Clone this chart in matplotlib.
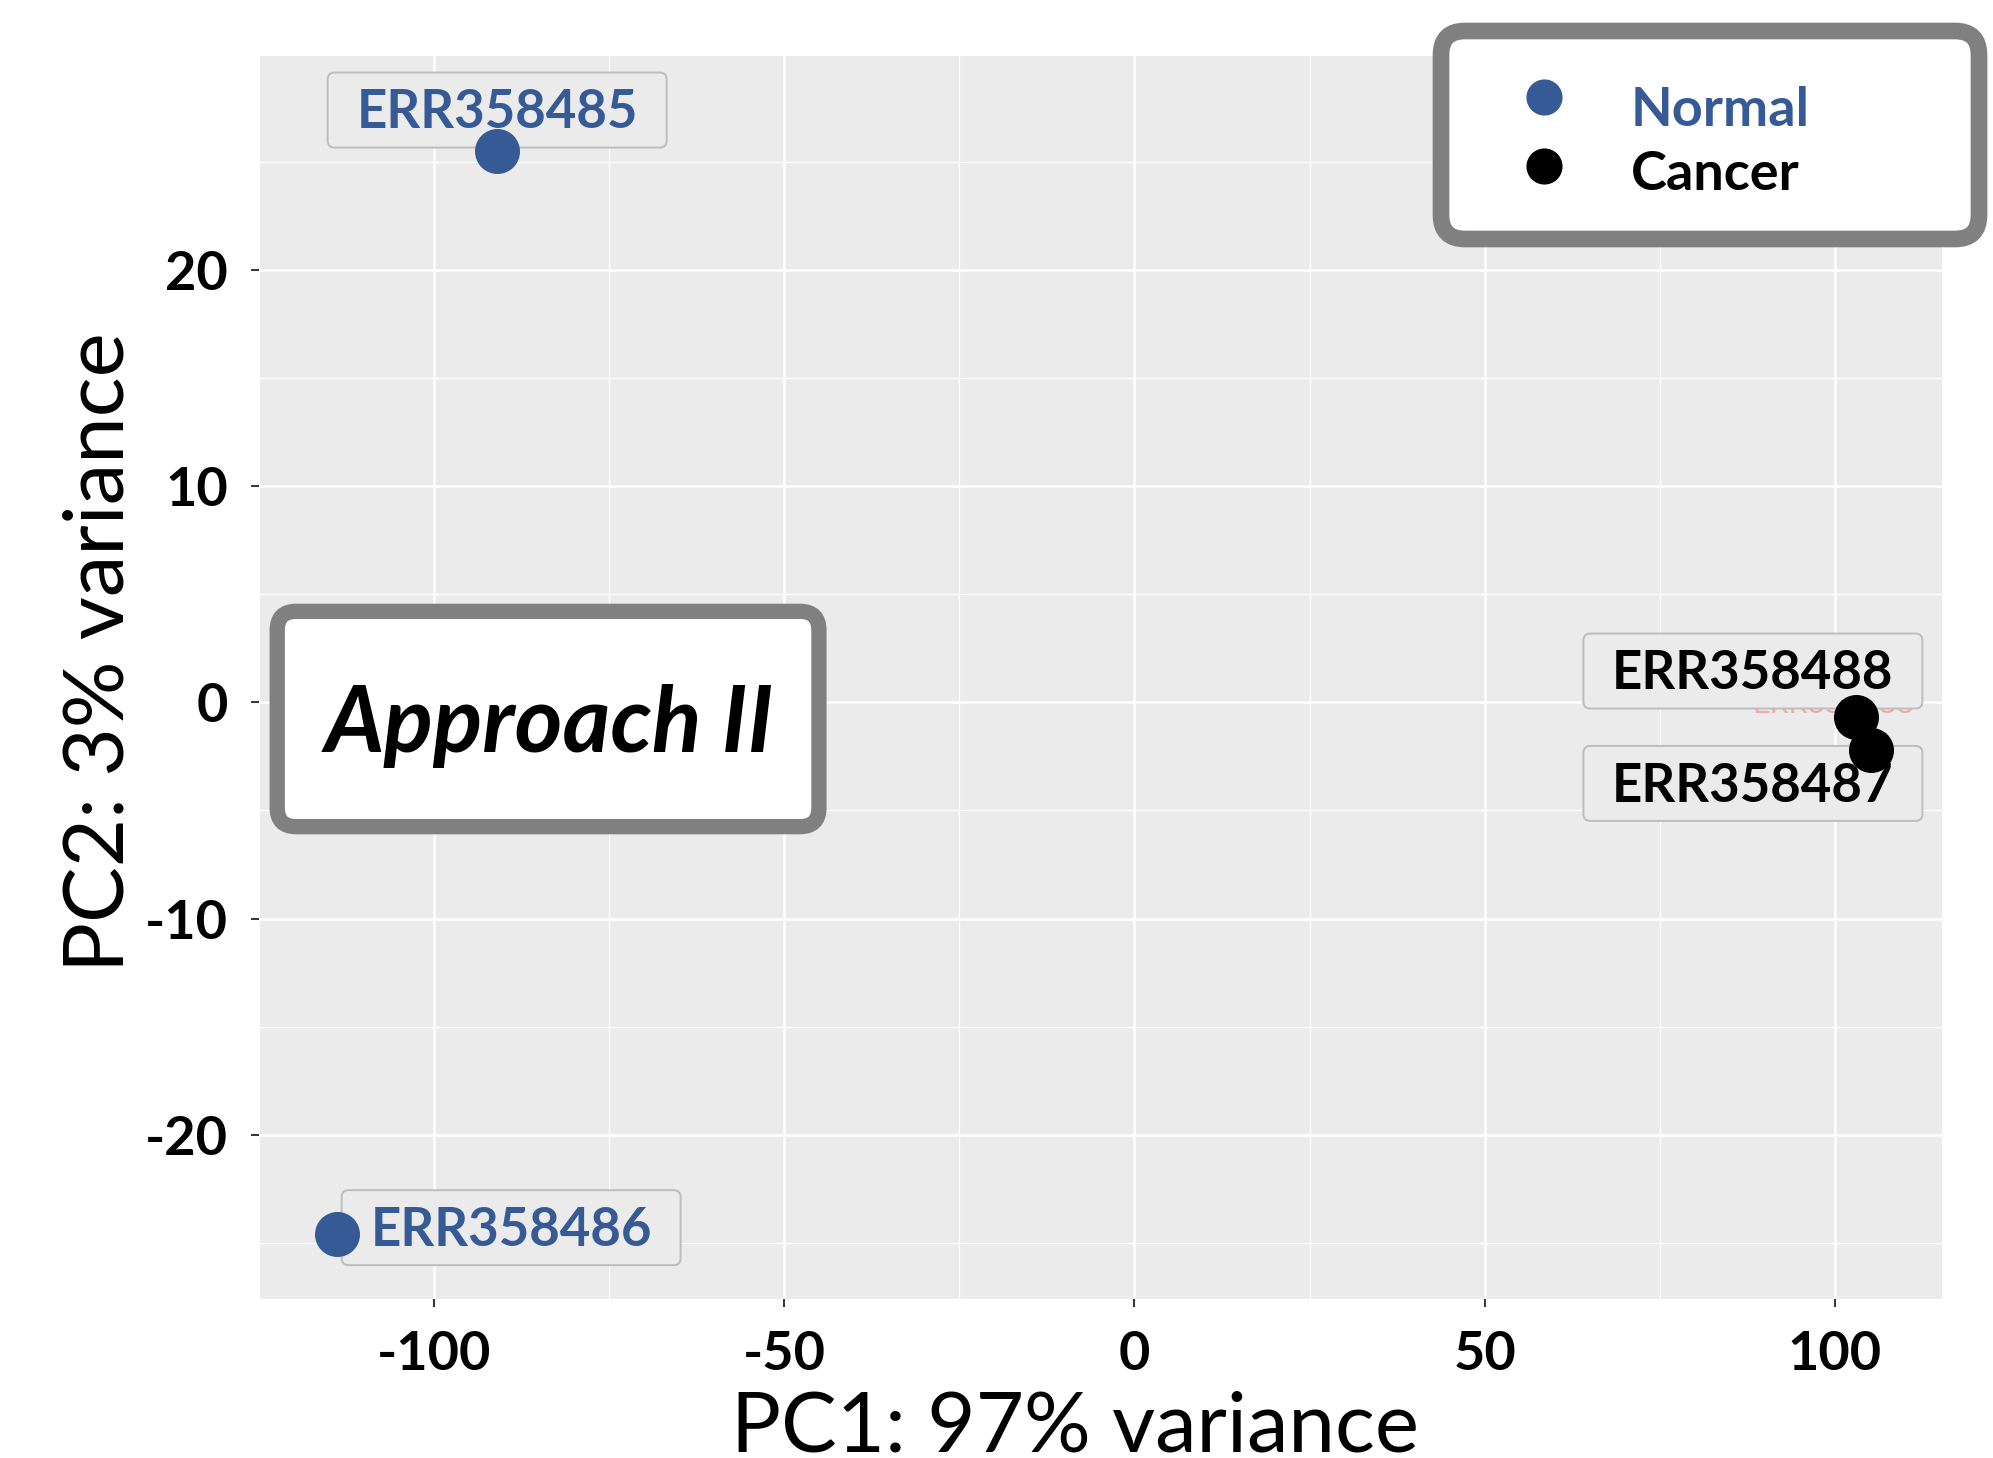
import numpy as np
import matplotlib
matplotlib.use('Agg')
import matplotlib.pyplot as plt
from matplotlib.patches import FancyBboxPatch
from matplotlib.lines import Line2D

plt.rcParams['font.family'] = ['Lato', 'DejaVu Sans']
plt.rcParams['axes.unicode_minus'] = False

# PCA scores per sample
samples = ['ERR358485', 'ERR358486', 'ERR358488', 'ERR358487']
pc1 = [-91.0, -113.9, 103.0, 105.2]
pc2 = [25.5, -24.6, -0.7, -2.2]
condition = ['Normal', 'Normal', 'Cancer', 'Cancer']

# repelled label positions
lab_x = [-91.0, -89.0, 88.3, 88.3]
lab_y = [27.4, -24.3, 1.45, -3.75]

groups = ['Normal', 'Cancer']
colors = {'Normal': '#365A96', 'Cancer': '#000000'}

fig = plt.figure(figsize=(19.93, 14.58), dpi=100)
ax = fig.add_axes([259 / 1993, 1 - 1299 / 1458, 1683 / 1993, 1243 / 1458])
ax.set_facecolor('#EBEBEB')
for s in ax.spines.values():
    s.set_visible(False)

ax.set_xlim(-124.8, 115.3)
ax.set_ylim(-27.6, 29.9)
ax.set_xticks([-100, -50, 0, 50, 100])
ax.set_yticks([-20, -10, 0, 10, 20])
ax.set_xticks([-125, -75, -25, 25, 75], minor=True)
ax.set_yticks([-25, -15, -5, 5, 15, 25], minor=True)
ax.grid(which='major', color='white', lw=1.8)
ax.grid(which='minor', color='white', lw=0.9)
ax.set_axisbelow(True)
ax.tick_params(which='major', length=5.5, width=1.4, color='#333333',
               labelsize=39, pad=17)
ax.tick_params(which='minor', length=0)
for t in ax.get_xticklabels() + ax.get_yticklabels():
    t.set_fontweight('bold')

ax.set_xlabel('PC1: 97% variance', fontsize=60, va='baseline')
ax.xaxis.set_label_coords(0.485, -0.123)
ax.set_ylabel('PC2: 3% variance', fontsize=60, va='center')
ax.yaxis.set_label_coords(-0.094, 0.5205)

# hidden overlapping label
ax.text(99.8, -0.47, 'ERR358488', color='#F8766D', alpha=0.55, fontsize=22,
        ha='center', va='baseline', zorder=2)

# label boxes: 48.4 x 3.47 data units, text centred on caps
box_w, box_h = 48.4, 3.47
for name, lx, ly, c in zip(samples, lab_x, lab_y, condition):
    ax.add_patch(FancyBboxPatch((lx - box_w / 2, ly - box_h / 2), box_w, box_h,
                                boxstyle='round,pad=0,rounding_size=1.0',
                                mutation_aspect=0.324, fc='#EBEBEB',
                                ec='#BDBDBD', lw=1.4, zorder=3))
    ax.text(lx, ly - 0.85, name, color=colors[c], fontsize=38,
            fontweight='bold', ha='center', va='baseline', zorder=3.5)

for g in groups:
    xs = [x for x, c in zip(pc1, condition) if c == g]
    ys = [y for y, c in zip(pc2, condition) if c == g]
    ax.scatter(xs, ys, s=1050, color=colors[g], lw=0, zorder=4)

# annotation box
ax.add_patch(FancyBboxPatch((-122.4, -5.75), 77.35, 9.96,
                            boxstyle='round,pad=0,rounding_size=2.7',
                            mutation_aspect=0.324, fc='white', ec='#808080',
                            lw=11, zorder=5, clip_on=False))
ax.text(-83.6, -2.3, 'Approach II', fontsize=66, fontweight='bold',
        style='italic', ha='center', va='baseline', zorder=6)

# legend drawn in pixel coords
W, H = 1993, 1458
def px(x, y):
    return (x / W, 1 - y / H)

fig.patches.append(FancyBboxPatch(px(1441, 239), 538 / W, 208 / H,
                                  boxstyle='round,pad=0,rounding_size=0.012',
                                  mutation_aspect=W / H,
                                  transform=fig.transFigure, fc='white',
                                  ec='#808080', lw=12, zorder=10))
for g, ky, ty in zip(groups, [97, 166], [111, 174]):
    kx, kyf = px(1544, ky)
    fig.add_artist(Line2D([kx], [kyf], marker='o', ms=25, color=colors[g],
                          lw=0, zorder=11))
    fig.text(*px(1631, ty), g, color=colors[g], fontsize=39,
             fontweight='bold', ha='left', va='center', zorder=11)

fig.savefig('out.png', dpi=100)
